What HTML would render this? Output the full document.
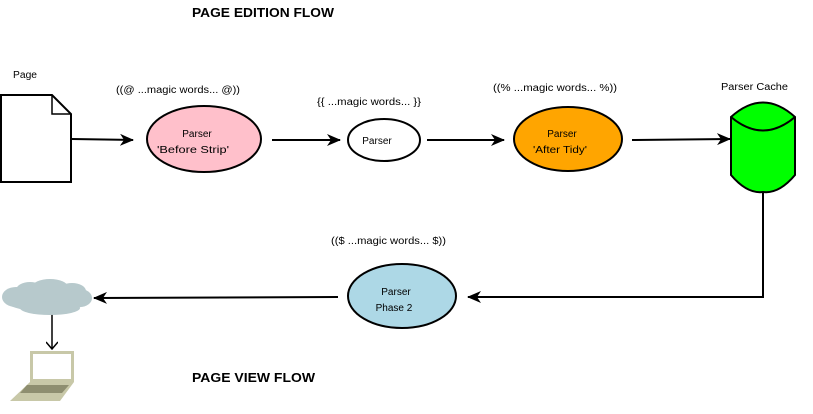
<!DOCTYPE html>
<html><head><style>html,body{margin:0;padding:0;background:#fff;}svg{display:block;}</style></head>
<body>
<svg width="813" height="414" viewBox="0 0 813 414" xmlns="http://www.w3.org/2000/svg" font-family="Liberation Sans, sans-serif">
<defs>
<marker id="a" markerWidth="14" markerHeight="12" refX="13" refY="6" orient="auto" markerUnits="userSpaceOnUse">
<path d="M0,0 L14,6 L0,12 L4,6 Z" fill="#000"/></marker>
<marker id="s" markerWidth="12" markerHeight="12" refX="11" refY="6" orient="auto" markerUnits="userSpaceOnUse">
<path d="M4,0 L11,6 L4,12" fill="none" stroke="#000" stroke-width="1.5"/></marker>
</defs>
<text x="192" y="17" font-size="13" font-weight="bold" textLength="142" lengthAdjust="spacingAndGlyphs">PAGE EDITION FLOW</text>
<text x="192" y="382" font-size="13" font-weight="bold" textLength="123" lengthAdjust="spacingAndGlyphs">PAGE VIEW FLOW</text>
<text x="13" y="78" font-size="10" textLength="24" lengthAdjust="spacingAndGlyphs">Page</text>
<text x="116" y="93" font-size="10" textLength="124" lengthAdjust="spacingAndGlyphs">((@ ...magic words... @))</text>
<text x="317" y="105" font-size="10" textLength="104" lengthAdjust="spacingAndGlyphs">{{ ...magic words... }}</text>
<text x="493" y="91" font-size="10" textLength="124" lengthAdjust="spacingAndGlyphs">((% ...magic words... %))</text>
<text x="721" y="90" font-size="10" textLength="67" lengthAdjust="spacingAndGlyphs">Parser Cache</text>
<text x="331" y="244" font-size="10" textLength="115" lengthAdjust="spacingAndGlyphs">(($ ...magic words... $))</text>
<!-- page -->
<path d="M1,95 L52,95 L71,114 L71,182 L1,182 Z" fill="#fff" stroke="#000" stroke-width="2"/>
<path d="M52,95 L52,114 L71,114" fill="none" stroke="#000" stroke-width="1.5"/>
<!-- arrows -->
<line x1="72" y1="139" x2="133" y2="140" stroke="#000" stroke-width="2" marker-end="url(#a)"/>
<line x1="272" y1="140" x2="340" y2="140" stroke="#000" stroke-width="2" marker-end="url(#a)"/>
<line x1="427" y1="140" x2="504" y2="140" stroke="#000" stroke-width="2" marker-end="url(#a)"/>
<line x1="632" y1="140" x2="730" y2="139" stroke="#000" stroke-width="2" marker-end="url(#a)"/>
<polyline points="763,188 763,297 468,297" fill="none" stroke="#000" stroke-width="2" marker-end="url(#a)"/>
<line x1="338" y1="297" x2="94" y2="298" stroke="#000" stroke-width="2" marker-end="url(#a)"/>
<line x1="52" y1="313" x2="52" y2="349" stroke="#000" stroke-width="1.5" marker-end="url(#s)"/>
<!-- ellipses -->
<ellipse cx="204" cy="139" rx="57" ry="33" fill="#ffc0cb" stroke="#000" stroke-width="2"/>
<text x="197" y="137" font-size="10" text-anchor="middle">Parser</text>
<text x="193" y="153" font-size="10" text-anchor="middle" textLength="72" lengthAdjust="spacingAndGlyphs">'Before Strip'</text>
<ellipse cx="384" cy="140" rx="36" ry="21" fill="#fff" stroke="#000" stroke-width="2"/>
<text x="377" y="144" font-size="10" text-anchor="middle">Parser</text>
<ellipse cx="568" cy="139" rx="54" ry="32" fill="#ffa500" stroke="#000" stroke-width="2"/>
<text x="562" y="137" font-size="10" text-anchor="middle">Parser</text>
<text x="560" y="153" font-size="10" text-anchor="middle" textLength="54" lengthAdjust="spacingAndGlyphs">'After Tidy'</text>
<ellipse cx="402" cy="296" rx="54" ry="32" fill="#add8e6" stroke="#000" stroke-width="2"/>
<text x="396" y="295" font-size="10" text-anchor="middle">Parser</text>
<text x="394" y="311" font-size="10" text-anchor="middle">Phase 2</text>
<!-- cylinder -->
<path d="M731,117 Q763,88 795,117 L795,175 Q779,194 763,192 Q747,194 731,175 Z" fill="#00ff00" stroke="#000" stroke-width="2"/>
<path d="M731,117 Q763,144 795,117" fill="none" stroke="#000" stroke-width="2"/>
<!-- cloud -->
<g fill="#b7c9cc">
<ellipse cx="47" cy="298" rx="44" ry="14"/>
<ellipse cx="16" cy="297" rx="14" ry="10"/>
<ellipse cx="30" cy="290" rx="14" ry="8"/>
<ellipse cx="50" cy="287" rx="18" ry="8"/>
<ellipse cx="72" cy="291" rx="14" ry="8"/>
<ellipse cx="80" cy="298" rx="12" ry="9"/>
<ellipse cx="50" cy="308" rx="30" ry="7"/>
</g>
<!-- laptop -->
<rect x="30" y="351" width="44" height="31" fill="#c8c8a8"/>
<rect x="33" y="354" width="38" height="25" fill="#fff"/>
<path d="M30,382 L74,382 L60,401 L10,401 Z" fill="#c8c8a8"/>
<path d="M27,385 L69,385 L62,393 L20,393 Z" fill="#8e8e70"/>
</svg>
</body></html>
